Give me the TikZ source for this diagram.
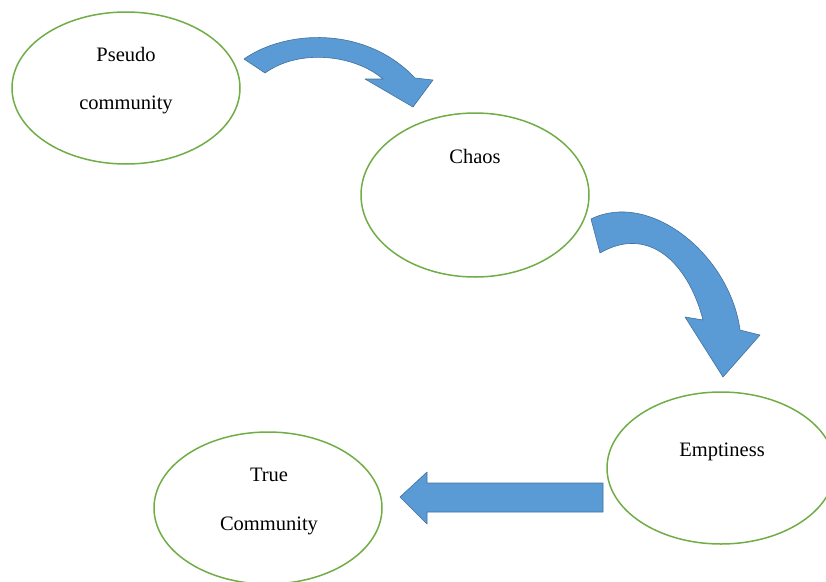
\documentclass[tikz,border=0pt]{standalone}
\usepackage{fontspec}
\setmainfont{Liberation Serif}
\usetikzlibrary{shapes.geometric}
\definecolor{stageblue}{RGB}{91,155,213}
\definecolor{stageedge}{RGB}{65,113,156}
\definecolor{stagegreen}{RGB}{112,173,71}

\begin{document}
\begin{tikzpicture}[x=1pt,y=-1pt,
    stage/.style={draw=stagegreen, line width=1.5pt, ellipse, minimum width=228pt, minimum height=152pt, inner sep=0pt},
    word/.style={anchor=base, inner sep=0pt, font=\fontsize{20.5}{24}\selectfont},
    blockarrow/.style={fill=stageblue, draw=stageedge, line width=0.6pt, line join=round}]
    \useasboundingbox (0,0) rectangle (826,581);
    \node[stage] (pseudo) at (126,88) {};
    \node[stage, minimum height=164pt] (chaos) at (475,195) {};
    \node[stage] (empty) at (721,468) {};
    \node[stage] (true) at (268,508) {};
    \node[word] (pseudoA) at (126,61) {Pseudo};
    \node[word] (pseudoB) at (126,109) {community};
    \node[word] (chaosA) at (475,163) {Chaos};
    \node[word] (emptyA) at (722,456) {Emptiness};
    \node[word] (trueA) at (269,481) {True};
    \node[word] (trueB) at (269,530) {Community};
    \draw[blockarrow] (244,59) .. controls (285,30) and (365,25) .. (415,78) -- (433,80) -- (413,107) -- (365,79) -- (383,79)
        .. controls (355,55) and (300,48) .. (265,73) -- cycle;
    \draw[blockarrow] (591,219) .. controls (650,190) and (730,255) .. (740,330) -- (760,335) -- (723,377) -- (685,317) -- (703,320)
        .. controls (688,262) and (648,225) .. (600,253) -- cycle;
    \draw[blockarrow] (603,483) -- (427,483) -- (427,472) -- (400,497) -- (427,524) -- (427,512) -- (603,512) -- cycle;
\end{tikzpicture}
\end{document}
